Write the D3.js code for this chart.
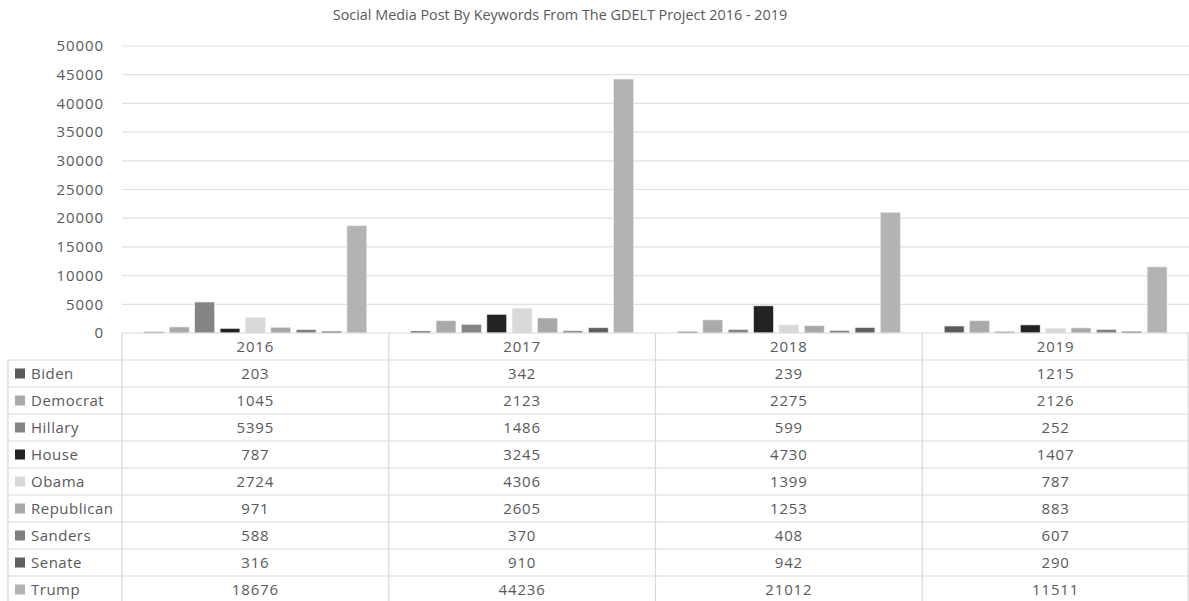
<!DOCTYPE html>
<html>
<head>
<meta charset="utf-8">
<script src="https://cdn.jsdelivr.net/npm/d3@7"></script>
<style>
  body { margin: 0; background: #fff; }
  svg { display: block; font-family: "Open Sans", "DejaVu Sans", sans-serif; }
</style>
</head>
<body>
<svg id="chart"></svg>
<script>
const years = ["2016", "2017", "2018", "2019"];
const keywords = ["Biden", "Democrat", "Hillary", "House", "Obama", "Republican", "Sanders", "Senate", "Trump"];
const biden = [203, 342, 239, 1215];
const democrat = [1045, 2123, 2275, 2126];
const hillary = [5395, 1486, 599, 252];
const house = [787, 3245, 4730, 1407];
const obama = [2724, 4306, 1399, 787];
const republican = [971, 2605, 1253, 883];
const sanders = [588, 370, 408, 607];
const senate = [316, 910, 942, 290];
const trump = [18676, 44236, 21012, 11511];
const yTicks = [0, 5000, 10000, 15000, 20000, 25000, 30000, 35000, 40000, 45000, 50000];
const colors = ["#5a5a5a", "#aaaaaa", "#848484", "#232323", "#d9d9d9", "#a8a8a8", "#7f7f7f", "#5f5f5f", "#b3b3b3"];

const series = [biden, democrat, hillary, house, obama, republican, sanders, senate, trump];

const W = 1189, H = 601;
const plotLeft = 122, plotRight = 1189, plotTop = 46, plotBottom = 333;
const rowH = 27;
const tableLeft = 8;
const textColor = "#595959";

const svg = d3.select("#chart").attr("width", W).attr("height", H);

// title
svg.append("text")
  .attr("x", 560).attr("y", 20)
  .attr("text-anchor", "middle")
  .attr("fill", textColor)
  .style("font-size", "14.4px")
  .text("Social Media Post By Keywords From The GDELT Project 2016 - 2019");

const x = d3.scaleBand().domain(years).range([plotLeft, plotRight]);
const xInner = d3.scaleBand().domain(keywords).range([22, x.bandwidth() - 22]).paddingInner(0.22);
const y = d3.scaleLinear().domain([0, 50000]).range([plotBottom, plotTop]);

// gridlines
svg.append("g").selectAll("line")
  .data(yTicks.slice(1))
  .join("line")
  .attr("x1", plotLeft).attr("x2", plotRight)
  .attr("y1", d => y(d)).attr("y2", d => y(d))
  .attr("stroke", "#e1e1e1").attr("stroke-width", 1.2);

// y tick labels
svg.append("g").selectAll("text")
  .data(yTicks)
  .join("text")
  .attr("x", 104).attr("y", d => y(d))
  .attr("dy", "0.35em")
  .attr("text-anchor", "end")
  .attr("fill", textColor)
  .style("font-size", "15px")
  .style("letter-spacing", "0.9px")
  .text(d => d);

// bars
const barData = [];
years.forEach((yr, i) => {
  keywords.forEach((k, j) => {
    barData.push({ year: yr, key: k, value: series[j][i], color: colors[j] });
  });
});

svg.append("g").selectAll("rect")
  .data(barData)
  .join("rect")
  .attr("x", d => x(d.year) + xInner(d.key))
  .attr("width", xInner.bandwidth())
  .attr("y", d => y(d.value))
  .attr("height", d => y(0) - y(d.value))
  .attr("fill", d => d.color)
  .attr("stroke", "#e8e8e8").attr("stroke-width", 0.6);

// table
const grid = "#d9d9d9";
const tbl = svg.append("g");
const nRows = keywords.length;
const tableBottom = H;

// axis line / header top
tbl.append("line")
  .attr("x1", plotLeft).attr("x2", plotRight)
  .attr("y1", plotBottom).attr("y2", plotBottom)
  .attr("stroke", grid).attr("stroke-width", 1.2);

// horizontal row lines
const rowLines = d3.range(1, nRows + 1).map(i => plotBottom + rowH * i);
tbl.selectAll(".hline")
  .data(rowLines)
  .join("line")
  .attr("x1", tableLeft).attr("x2", plotRight)
  .attr("y1", d => d).attr("y2", d => d)
  .attr("stroke", grid).attr("stroke-width", 1.2);

// vertical column lines
const colLines = years.map(yr => x(yr)).concat([plotRight - 1]);
tbl.selectAll(".vline")
  .data(colLines)
  .join("line")
  .attr("x1", d => d).attr("x2", d => d)
  .attr("y1", plotBottom).attr("y2", tableBottom)
  .attr("stroke", grid).attr("stroke-width", 1.2);

tbl.append("line")
  .attr("x1", tableLeft).attr("x2", tableLeft)
  .attr("y1", plotBottom + rowH).attr("y2", tableBottom)
  .attr("stroke", grid).attr("stroke-width", 1.2);

// header years
tbl.selectAll(".yr")
  .data(years)
  .join("text")
  .attr("x", d => x(d) + x.bandwidth() / 2)
  .attr("y", plotBottom + rowH / 2)
  .attr("dy", "0.35em")
  .attr("text-anchor", "middle")
  .attr("fill", textColor)
  .style("font-size", "15px")
  .style("letter-spacing", "0.9px")
  .text(d => d);

// rows
keywords.forEach((k, j) => {
  const cy = plotBottom + rowH * (j + 1) + rowH / 2;
  tbl.append("rect")
    .attr("x", 15).attr("y", cy - 5)
    .attr("width", 10).attr("height", 10)
    .attr("fill", colors[j]);
  tbl.append("text")
    .attr("x", 31).attr("y", cy)
    .attr("dy", "0.35em")
    .attr("fill", textColor)
    .style("font-size", "15px")
    .style("letter-spacing", "0.5px")
    .text(k);
  tbl.selectAll(".v" + j)
    .data(series[j])
    .join("text")
    .attr("x", (d, i) => x(years[i]) + x.bandwidth() / 2)
    .attr("y", cy)
    .attr("dy", "0.35em")
    .attr("text-anchor", "middle")
    .attr("fill", textColor)
    .style("font-size", "15px")
    .style("letter-spacing", "0.9px")
    .text(d => d);
});
</script>
</body>
</html>
